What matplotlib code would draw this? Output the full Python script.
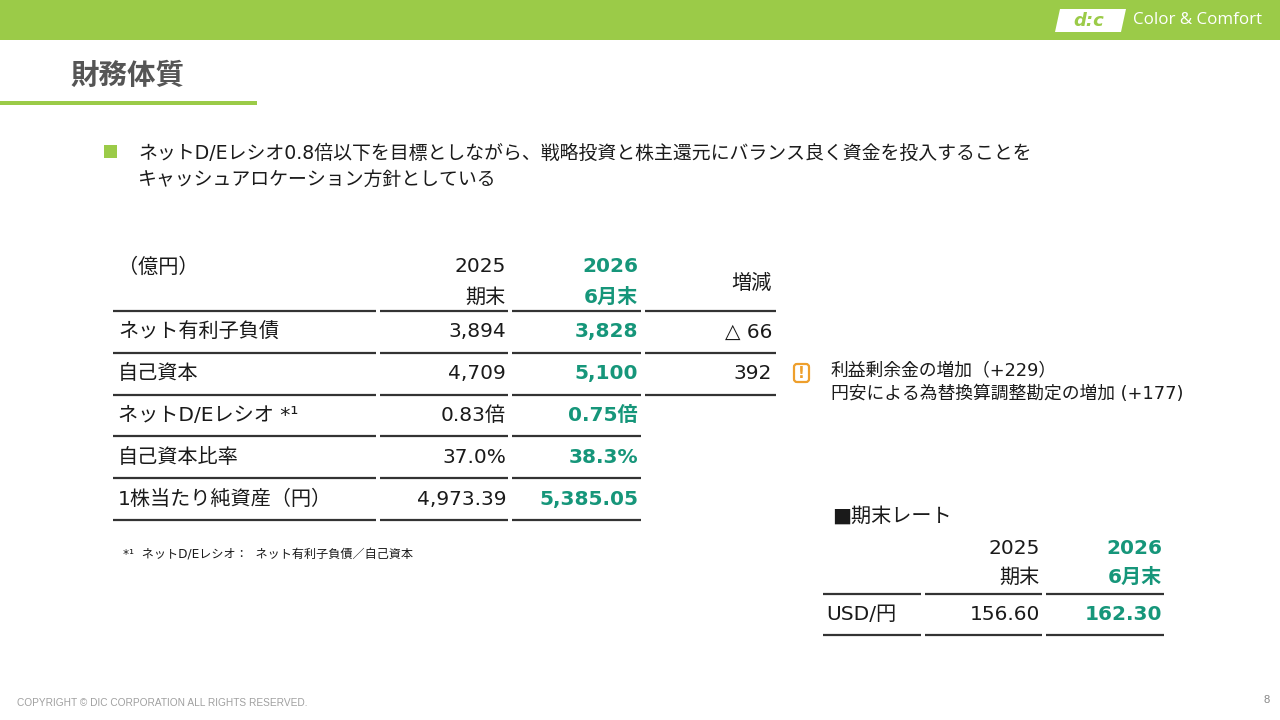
import matplotlib
matplotlib.use("Agg")
import matplotlib.pyplot as plt
from matplotlib.patches import Rectangle, FancyBboxPatch, Polygon

plt.rcParams['font.family'] = ['DejaVu Sans', 'Noto Sans CJK JP']

# ─────────────────────────────────────────────
# DATA
# ─────────────────────────────────────────────
title = "財務体質"
bullet_lines = [
    "ネットD/Eレシオ0.8倍以下を目標としながら、戦略投資と株主還元にバランス良く資金を投入することを",
    "キャッシュアロケーション方針としている",
]

unit_label = "（億円）"
col_prev = ["2025", "期末"]
col_curr = ["2026", "6月末"]
col_diff = "増減"

row_labels = ["ネット有利子負債", "自己資本", "ネットD/Eレシオ *¹", "自己資本比率", "1株当たり純資産（円）"]
values_prev = ["3,894", "4,709", "0.83倍", "37.0%", "4,973.39"]
values_curr = ["3,828", "5,100", "0.75倍", "38.3%", "5,385.05"]
changes = ["△ 66", "392", None, None, None]

note_lines = ["利益剰余金の増加（+229）", "円安による為替換算調整勘定の増加 (+177)"]
footnote = "*¹  ネットD/Eレシオ：  ネット有利子負債／自己資本"

rate_title = "■期末レート"
rate_labels = ["USD/円"]
rate_prev = ["156.60"]
rate_curr = ["162.30"]

GREEN_BAR = "#9BCB48"
TEAL = "#16967A"
ORANGE = "#EE9F2C"
INK = "#1A1A1A"

# ─────────────────────────────────────────────
# CANVAS
# ─────────────────────────────────────────────
fig = plt.figure(figsize=(12.8, 7.2), dpi=100)
ax = fig.add_axes([0, 0, 1, 1])
ax.set_xlim(0, 1280)
ax.set_ylim(720, 0)
ax.axis("off")

# top bar + logo
ax.add_patch(Rectangle((0, 0), 1280, 40, color=GREEN_BAR, lw=0))
ax.add_patch(Polygon([[1060, 9], [1126, 9], [1121, 32], [1055, 32]], closed=True,
                     color="white", lw=0))
ax.text(1089, 21, "d:c", color=GREEN_BAR, fontsize=13, fontweight="bold",
        style="italic", ha="center", va="center")
ax.text(1133, 20, "Color & Comfort", color="white", fontsize=12.2,
        family=["Open Sans", "DejaVu Sans"], ha="left", va="center")

# title
ax.text(70, 76, title, fontsize=20.5, fontweight="bold", color="#555555",
        family=["Noto Sans CJK JP"], ha="left", va="center")
ax.add_patch(Rectangle((0, 101), 257, 4, color=GREEN_BAR, lw=0))

# bullet
ax.add_patch(Rectangle((104, 145), 13, 13, color=GREEN_BAR, lw=0))
for i, line in enumerate(bullet_lines):
    ax.text(138, 153 + i * 26, line, fontsize=13.6, color=INK, ha="left", va="center")

# ─────────────────────────────────────────────
# MAIN TABLE
# ─────────────────────────────────────────────
fs = 14.5
x_label, x_prev, x_curr, x_diff = 118, 506, 638, 772
segs = [(113, 376), (380, 508), (512, 641)]
seg_diff = (645, 776)

ax.text(x_label, 267, unit_label, fontsize=fs, color=INK, ha="left", va="center")
ax.text(x_prev, 267, col_prev[0], fontsize=fs, color=INK, ha="right", va="center")
ax.text(x_prev, 297, col_prev[1], fontsize=fs, color=INK, ha="right", va="center")
ax.text(x_curr, 267, col_curr[0], fontsize=fs, color=TEAL, fontweight="bold",
        ha="right", va="center")
ax.text(x_curr, 297, col_curr[1], fontsize=fs, color=TEAL, fontweight="bold",
        ha="right", va="center")
ax.text(x_diff, 283, col_diff, fontsize=fs, color=INK, ha="right", va="center")

def hline(y, x0, x1):
    ax.plot([x0, x1], [y, y], color="#333333", lw=1.6, solid_capstyle="butt")

y_top = 311
row_h = 41.8
for s in segs + [seg_diff]:
    hline(y_top, *s)
for i, lab in enumerate(row_labels):
    yc = y_top + row_h * (i + 0.5)
    yb = y_top + row_h * (i + 1)
    ax.text(x_label, yc, lab, fontsize=fs, color=INK, ha="left", va="center")
    ax.text(x_prev, yc, values_prev[i], fontsize=fs, color=INK, ha="right", va="center")
    ax.text(x_curr, yc, values_curr[i], fontsize=fs, color=TEAL, fontweight="bold",
            ha="right", va="center")
    for s in segs:
        hline(yb, *s)
    if changes[i] is not None:
        ax.text(x_diff, yc, changes[i], fontsize=fs, color=INK, ha="right", va="center")
        hline(yb, *seg_diff)

ax.text(123, 555, footnote, fontsize=8.7, color=INK, ha="left", va="center")

# note with warning icon
ax.add_patch(FancyBboxPatch((794, 364), 15, 18, boxstyle="round,pad=0,rounding_size=3",
                            fc="white", ec=ORANGE, lw=1.6))
ax.text(801.5, 373, "!", fontsize=11, color=ORANGE, fontweight="bold",
        ha="center", va="center")
for i, line in enumerate(note_lines):
    ax.text(831, 370 + i * 24, line, fontsize=12.8, color=INK, ha="left", va="center")

# ─────────────────────────────────────────────
# RATE TABLE
# ─────────────────────────────────────────────
ax.text(832, 516, rate_title, fontsize=fs, color=INK, ha="left", va="center")
rx_prev, rx_curr = 1040, 1162
rsegs = [(823, 921), (925, 1042), (1046, 1164)]
ax.text(rx_prev, 548, col_prev[0], fontsize=fs, color=INK, ha="right", va="center")
ax.text(rx_prev, 577, col_prev[1], fontsize=fs, color=INK, ha="right", va="center")
ax.text(rx_curr, 548, col_curr[0], fontsize=fs, color=TEAL, fontweight="bold",
        ha="right", va="center")
ax.text(rx_curr, 577, col_curr[1], fontsize=fs, color=TEAL, fontweight="bold",
        ha="right", va="center")
for s in rsegs:
    hline(594, *s)
for i, lab in enumerate(rate_labels):
    yc = 615 + i * 41
    ax.text(826, yc, lab, fontsize=fs, color=INK, ha="left", va="center")
    ax.text(rx_prev, yc, rate_prev[i], fontsize=fs, color=INK, ha="right", va="center")
    ax.text(rx_curr, yc, rate_curr[i], fontsize=fs, color=TEAL, fontweight="bold",
            ha="right", va="center")
    for s in rsegs:
        hline(635 + i * 41, *s)

# footer
ax.text(17, 703, "COPYRIGHT © DIC CORPORATION ALL RIGHTS RESERVED.", fontsize=7.3,
        color="#A0A0A0", family=["Liberation Sans"], ha="left", va="center")
ax.text(1270, 700, "8", fontsize=8, color="#888888", family=["Liberation Sans"],
        ha="right", va="center")

fig.savefig("out.png", dpi=100)
